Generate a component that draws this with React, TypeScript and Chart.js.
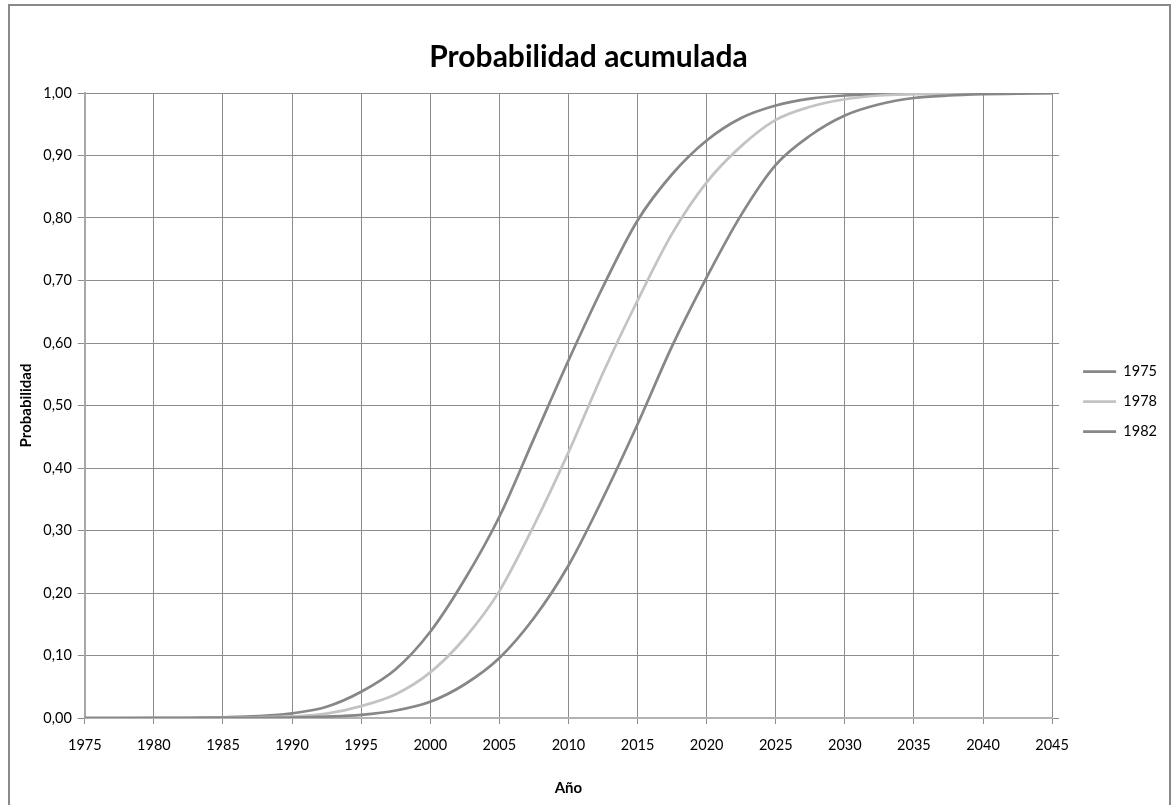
import React, { useEffect, useRef } from 'react';
import { Chart, registerables } from 'chart.js';

Chart.register(...registerables);

const years = [1975, 1977.5, 1980, 1982.5, 1985, 1987.5, 1990, 1992.5, 1995, 1997.5, 2000, 2002.5, 2005, 2007.5, 2010, 2012.5, 2015, 2017.5, 2020, 2022.5, 2025, 2027.5, 2030, 2032.5, 2035, 2037.5, 2040, 2042.5, 2045];
const serie1975 = [0, 0, 0.0001, 0.0003, 0.0012, 0.003, 0.0075, 0.018, 0.042, 0.078, 0.138, 0.222, 0.322, 0.447, 0.572, 0.690, 0.796, 0.870, 0.924, 0.960, 0.980, 0.991, 0.996, 0.998, 0.999, 1.0, 1.0, 1.0, 1.0];
const serie1978 = [0, 0, 0, 0.0001, 0.0004, 0.0011, 0.0025, 0.007, 0.019, 0.038, 0.073, 0.128, 0.203, 0.308, 0.425, 0.552, 0.668, 0.775, 0.857, 0.915, 0.957, 0.978, 0.990, 0.996, 0.998, 0.999, 1.0, 1.0, 1.0];
const serie1982 = [0, 0, 0, 0, 0.0001, 0.0003, 0.0008, 0.0022, 0.005, 0.012, 0.026, 0.054, 0.096, 0.160, 0.244, 0.352, 0.470, 0.595, 0.705, 0.805, 0.885, 0.932, 0.964, 0.982, 0.992, 0.996, 0.998, 0.999, 1.0];
const seriesLabels = ['1975', '1978', '1982'];
const seriesColors = ['#878787', '#c3c3c3', '#878787'];
const xMin = 1975;
const xMax = 2045;
const xStep = 5;
const yMin = 0;
const yMax = 1;
const yStep = 0.1;

const titleText = 'Probabilidad acumulada';
const xTitle = 'Año';
const yTitle = 'Probabilidad';

const GRID = '#8c8c8c';
const FONT = 'Lato, Carlito, Calibri, "Open Sans", sans-serif';

export default function App() {
  const ref = useRef<HTMLCanvasElement | null>(null);

  useEffect(() => {
    if (!ref.current) return;
    const allSeries = [serie1975, serie1978, serie1982];
    const chart = new Chart(ref.current, {
      type: 'line',
      data: {
        datasets: allSeries.map((s, i) => ({
          label: seriesLabels[i],
          data: s.map((v, j) => ({ x: years[j], y: v })),
          borderColor: seriesColors[i],
          backgroundColor: seriesColors[i],
          borderWidth: 2.75,
          pointRadius: 0,
          cubicInterpolationMode: 'monotone' as const,
          fill: false,
          order: 3 - i,
        })),
      },
      options: {
        animation: false,
        responsive: false,
        events: [],
        layout: { padding: { left: 0, right: 2, top: 0, bottom: 8 } },
        plugins: {
          title: {
            display: true,
            text: titleText,
            color: '#000',
            font: { family: FONT, size: 30, weight: 'bold' },
            padding: { top: 33, bottom: 18 },
          },
          legend: {
            display: true,
            position: 'right',
            fullSize: true,
            labels: {
              usePointStyle: true,
              pointStyle: 'line',
              pointStyleWidth: 33,
              color: '#000',
              font: { family: FONT, size: 14.5 },
              padding: 15.5,
              sort: (a: any, b: any) => a.datasetIndex - b.datasetIndex,
            },
          },
          tooltip: { enabled: false },
        },
        scales: {
          x: {
            type: 'linear',
            min: xMin,
            max: xMax,
            afterFit: (scale: any) => { scale.height = 79; },
            ticks: {
              stepSize: xStep,
              color: '#000',
              font: { family: FONT, size: 14.5 },
              padding: 12.3,
              maxRotation: 0,
              autoSkip: false,
              callback: (v: any) => String(v),
            },
            grid: { color: GRID, lineWidth: 1, tickLength: 6, tickColor: GRID },
            border: { display: true, color: '#b3b3b3', width: 2 },
            title: {
              display: true,
              text: xTitle,
              color: '#000',
              font: { family: FONT, size: 15, weight: 'bold' },
              padding: { top: 0, bottom: 0 },
            },
          },
          y: {
            type: 'linear',
            position: 'left',
            min: yMin,
            max: yMax,
            afterFit: (scale: any) => { scale.width = 74.8; },
            ticks: {
              stepSize: yStep,
              color: '#000',
              font: { family: FONT, size: 14.5 },
              padding: 6,
              callback: (v: any) => Number(v).toFixed(2).replace('.', ','),
            },
            grid: { color: GRID, lineWidth: 1, tickLength: 7, tickColor: GRID },
            border: { display: true, color: '#a8a8a8', width: 2 },
            title: {
              display: true,
              text: yTitle,
              color: '#000',
              font: { family: FONT, size: 15, weight: 'bold' },
              padding: { top: 7, bottom: 0 },
            },
          },
          y2: {
            type: 'linear',
            position: 'right',
            min: yMin,
            max: yMax,
            afterFit: (scale: any) => { scale.width = 15.5; },
            ticks: { stepSize: yStep, display: false },
            grid: { drawOnChartArea: false, drawTicks: true, tickLength: 7, color: GRID, tickColor: GRID, lineWidth: 1 },
            border: { display: false },
          },
        },
      } as any,
    });
    return () => chart.destroy();
  }, []);

  return (
    <div
      style={{
        position: 'absolute',
        left: 8,
        top: 4,
        width: 1163,
        height: 801,
        boxSizing: 'border-box',
        border: '2px solid #898989',
        borderBottom: 'none',
        background: '#fff',
        overflow: 'hidden',
      }}
    >
      <canvas ref={ref} width={1159} height={799} style={{ display: 'block' }} />
    </div>
  );
}
